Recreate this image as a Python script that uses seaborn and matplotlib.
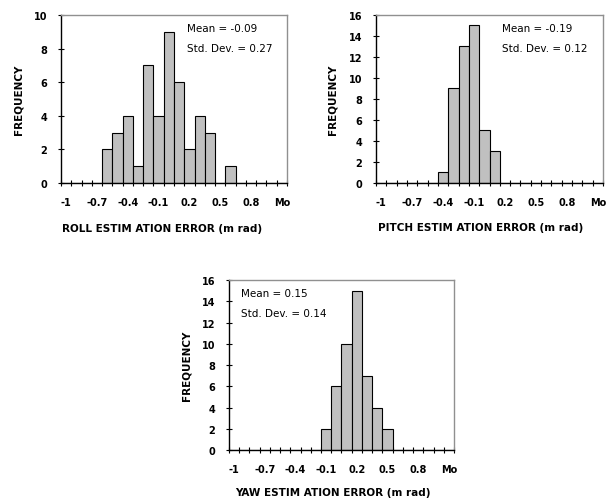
import numpy as np
import pandas as pd
import matplotlib
matplotlib.use("Agg")
import matplotlib.pyplot as plt
import seaborn as sns

# =============================================
# Histogram data (Excel style bins, counts)
bins = ["-1", "-0.9", "-0.8", "-0.7", "-0.6", "-0.5", "-0.4", "-0.3", "-0.2", "-0.1",
        "0", "0.1", "0.2", "0.3", "0.4", "0.5", "0.6", "0.7", "0.8", "0.9", "1", "Mo"]
tick_bins = ["-1", "-0.7", "-0.4", "-0.1", "0.2", "0.5", "0.8", "Mo"]

roll_counts = [0, 0, 0, 0, 2, 3, 4, 1, 7, 4, 9, 6, 2, 4, 3, 0, 1, 0, 0, 0, 0, 0]
pitch_counts = [0, 0, 0, 0, 0, 0, 1, 9, 13, 15, 5, 3, 0, 0, 0, 0, 0, 0, 0, 0, 0, 0]
yaw_counts = [0, 0, 0, 0, 0, 0, 0, 0, 0, 2, 6, 10, 15, 7, 4, 2, 0, 0, 0, 0, 0, 0]

xlabels = ["ROLL ESTIM ATION ERROR (m rad)", "PITCH ESTIM ATION ERROR (m rad)",
           "YAW ESTIM ATION ERROR (m rad)"]
means = ["Mean = -0.09", "Mean = -0.19", "Mean = 0.15"]
stds = ["Std. Dev. = 0.27", "Std. Dev. = 0.12", "Std. Dev. = 0.14"]
ymax = [10, 16, 16]

# =============================================
# Plotting parameters
sns.set_style("white", {'text.color': 'black', 'axes.labelcolor': 'black',
                        'xtick.color': 'black', 'ytick.color': 'black'})
plt.rcParams['font.family'] = ['DejaVu Sans']
tickFontSize = 7
labelFontSize = 7.5

fig = plt.figure(figsize=(6.08, 5.02), dpi=100)
# axes rectangles [left, bottom, width, height] in figure fraction
rects = [[0.1003, 0.6335, 0.3717, 0.3347],
         [0.6184, 0.6335, 0.3734, 0.3347],
         [0.3766, 0.1016, 0.3701, 0.3386]]
text_x = [0.557, 0.555, 0.053]
xlab_x = [0.447, 0.46, 0.46]
xlab_y = [-0.27, -0.26, -0.247]

for i, counts in enumerate([roll_counts, pitch_counts, yaw_counts]):
    ax = fig.add_axes(rects[i])
    df = pd.DataFrame({'bin': bins, 'count': counts})
    sns.barplot(x='bin', y='count', data=df, order=bins, width=1.0, color='#c0c0c0',
                saturation=1, edgecolor='black', linewidth=0.8, ax=ax)

    ax.set_xlim(-0.5, len(bins) - 0.5)
    ax.set_ylim(0, ymax[i])
    ax.set_yticks(np.arange(0, ymax[i] + 1, 2))
    ax.tick_params(axis='y', left=True, direction='inout', length=4, width=0.8, pad=8,
                   labelsize=tickFontSize, colors='black')
    for lab in ax.get_yticklabels():
        lab.set_fontweight('bold')

    # tick marks at the bin boundaries, labels on every third bin
    ax.set_xticks(np.arange(-0.5, len(bins), 1.0))
    ax.set_xticklabels([])
    ax.tick_params(axis='x', which='major', bottom=True, direction='inout', length=5,
                   width=0.8, colors='black')
    ax.set_xticks([bins.index(b) for b in tick_bins], minor=True)
    ax.set_xticklabels(tick_bins, minor=True, fontsize=tickFontSize, fontweight='bold')
    ax.tick_params(axis='x', which='minor', bottom=True, length=0, pad=10, colors='black')

    for s in ['left', 'bottom']:
        ax.spines[s].set_color('black')
        ax.spines[s].set_linewidth(1.0)
    for s in ['top', 'right']:
        ax.spines[s].set_color('#909090')
        ax.spines[s].set_linewidth(1.0)

    ax.set_xlabel(xlabels[i], fontsize=labelFontSize, fontweight='bold', color='black')
    ax.xaxis.set_label_coords(xlab_x[i], xlab_y[i])
    ax.xaxis.label.set_va('center')
    ax.set_ylabel('FREQUENCY', fontsize=labelFontSize, fontweight='bold', color='black')
    ax.yaxis.set_label_coords(-0.19, 0.5)
    ax.yaxis.label.set_va('center')

    ax.text(text_x[i], 0.923, means[i], transform=ax.transAxes, fontsize=labelFontSize,
            ha='left', va='center', color='black')
    ax.text(text_x[i], 0.806, stds[i], transform=ax.transAxes, fontsize=labelFontSize,
            ha='left', va='center', color='black')

plt.savefig('out.png', dpi=100)
